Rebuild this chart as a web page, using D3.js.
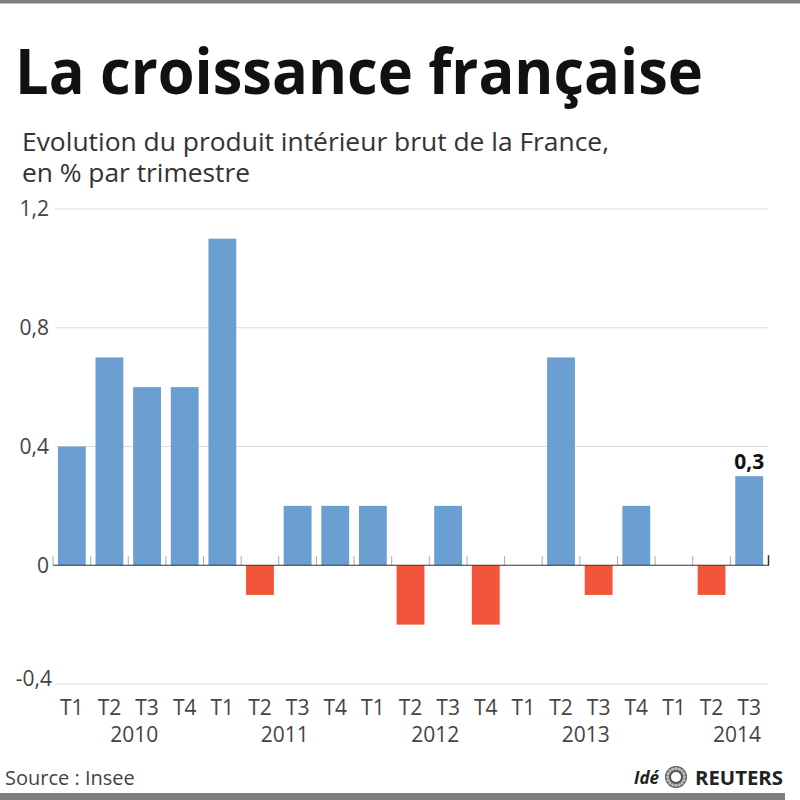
<!DOCTYPE html>
<html><head><meta charset="utf-8">
<script src="https://cdn.jsdelivr.net/npm/d3@7"></script>
<style>body{margin:0;background:#fff}svg{display:block}</style>
</head><body>
<script>
const quarters = ["T1","T2","T3","T4","T1","T2","T3","T4","T1","T2","T3","T4","T1","T2","T3","T4","T1","T2","T3"];
const years = ["2010","2010","2010","2010","2011","2011","2011","2011","2012","2012","2012","2012","2013","2013","2013","2013","2014","2014","2014"];
const values = [0.4,0.7,0.6,0.6,1.1,-0.1,0.2,0.2,0.2,-0.2,0.2,-0.2,0,0.7,-0.1,0.2,0,-0.1,0.3];
const yTicks = [1.2,0.8,0.4,0,-0.4];
const yearLabels = ["2010","2011","2012","2013","2014"];

const W=800,H=800;
const svg=d3.select("body").append("svg").attr("width",W).attr("height",H);
svg.append("rect").attr("x",0).attr("y",0).attr("width",W).attr("height",H).attr("fill","#fff");
svg.append("rect").attr("x",0).attr("y",0).attr("width",W).attr("height",3.5).attr("fill","#7f7f7f");
svg.append("rect").attr("x",0).attr("y",793).attr("width",785).attr("height",7).attr("fill","#7f7f7f");

const font="'Open Sans', 'Noto Sans', sans-serif";
svg.append("text").attr("x",15).attr("y",94).text("La croissance française")
  .attr("font-family",font).attr("font-weight",700).attr("font-size",63).attr("fill","#111")
  .attr("textLength",688).attr("lengthAdjust","spacingAndGlyphs");
svg.append("text").attr("x",22).attr("y",151).text("Evolution du produit intérieur brut de la France,")
  .attr("font-family",font).attr("font-size",25).attr("fill","#333")
  .attr("textLength",587).attr("lengthAdjust","spacingAndGlyphs");
svg.append("text").attr("x",22).attr("y",182).text("en % par trimestre")
  .attr("font-family",font).attr("font-size",25).attr("fill","#333")
  .attr("textLength",228).attr("lengthAdjust","spacingAndGlyphs");

const idx=d3.range(values.length);
const x=d3.scaleBand().domain(idx).range([53,768]).paddingInner(0.26).paddingOuter(0.13);
const y=d3.scaleLinear().domain([-0.4,1.2]).range([684,209]);

// grid
svg.append("g").selectAll("line").data(yTicks.filter(d=>d!==0)).join("line")
  .attr("x1",55).attr("x2",768).attr("y1",d=>y(d)).attr("y2",d=>y(d))
  .attr("stroke","#dcdcdc").attr("stroke-width",1);
const fmt=d=>d===0?"0":d3.format(".1f")(d).replace(".",",").replace("\u2212","-");
const lab=(sel,w)=>sel.attr("font-family",font).attr("font-size",21).attr("fill","#444")
  .attr("transform-origin",null);
svg.append("g").selectAll("text").data(yTicks).join("text")
  .attr("x",d=>d===-0.4?52:49).attr("y",d=>y(d)+(d===-0.4?-5:0)).attr("dy","0.35em").attr("text-anchor","end")
  .attr("font-family",font).attr("font-size",21).attr("fill","#444").text(fmt);

// bars
svg.append("g").selectAll("rect").data(idx).join("rect")
  .attr("x",i=>x(i)).attr("width",x.bandwidth())
  .attr("y",i=>y(Math.max(0,values[i]))).attr("height",i=>Math.abs(y(values[i])-y(0)))
  .attr("fill",i=>values[i]>=0?"#6b9fd2":"#f2553a");

// zero axis with ticks
const step=x.step();
const bounds=d3.range(values.length).map(i=>x(i)-x.paddingInner()*step/2);
svg.append("g").selectAll("line").data(bounds).join("line")
  .attr("x1",d=>d).attr("x2",d=>d).attr("y1",y(0)-9).attr("y2",y(0))
  .attr("stroke","#aaa").attr("stroke-width",1);
svg.append("line").attr("x1",53).attr("x2",769).attr("y1",y(0)).attr("y2",y(0)).attr("stroke","#333").attr("stroke-width",1.2);
svg.append("line").attr("x1",768.5).attr("x2",768.5).attr("y1",y(0)-10).attr("y2",y(0)).attr("stroke","#333").attr("stroke-width",1.5);

// value label
const last=values.length-1;
svg.append("text").attr("x",x(last)+x.bandwidth()/2).attr("y",y(values[last])-7).attr("text-anchor","middle")
  .attr("font-family",font).attr("font-weight",700).attr("font-size",21).attr("fill","#111")
  .text(fmt(values[last]));

// x labels
svg.append("g").selectAll("text").data(idx).join("text")
  .attr("x",i=>x(i)+x.bandwidth()/2).attr("y",715).attr("text-anchor","middle")
  .attr("font-family",font).attr("font-size",21).attr("fill","#444").text(i=>quarters[i]);
svg.append("g").selectAll("text").data(yearLabels).join("text")
  .attr("x",yr=>{const ii=idx.filter(i=>years[i]===yr); if(ii.length<4) return x(ii[ii.length-1])+x.bandwidth()-2; return x(ii[2])-x.paddingInner()*step/2+6;})
  .attr("text-anchor",yr=>idx.filter(i=>years[i]===yr).length<4?"end":"middle")
  .attr("y",742).attr("font-family",font).attr("font-size",21).attr("fill","#444").text(d=>d);

// footer
svg.append("text").attr("x",5).attr("y",785).attr("font-family",font).attr("font-size",20).attr("fill","#444").text("Source : Insee");
svg.append("text").attr("x",634).attr("y",784).attr("font-family",font).attr("font-size",17).attr("font-weight",700).attr("font-style","italic").attr("fill","#222").text("Idé");
const logo=svg.append("g").attr("transform","translate(676,777)");
logo.append("circle").attr("r",11).attr("fill","#555");
logo.append("circle").attr("r",5).attr("fill","#fff");
logo.selectAll("circle.dot").data(d3.range(16)).join("circle").attr("class","dot")
  .attr("cx",d=>Math.cos(d/16*2*Math.PI)*8.5).attr("cy",d=>Math.sin(d/16*2*Math.PI)*8.5).attr("r",1.7).attr("fill","#bbb");
svg.append("text").attr("x",695).attr("y",785).attr("font-family",font).attr("font-size",19).attr("font-weight",700).attr("fill","#222")
  .attr("textLength",88).attr("lengthAdjust","spacingAndGlyphs").text("REUTERS");
</script>
</body></html>
